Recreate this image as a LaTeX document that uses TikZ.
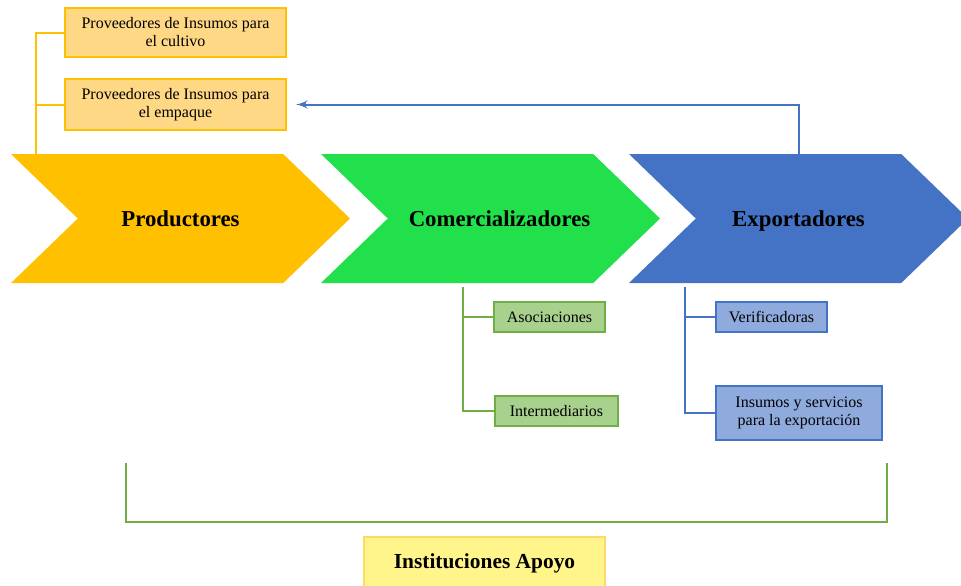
\documentclass[tikz,border=0pt]{standalone}
\usepackage{fontspec}
\setmainfont{Liberation Serif}
\usetikzlibrary{shapes,arrows,calc,positioning}

\definecolor{oro}{HTML}{FFC000}
\definecolor{oroclaro}{HTML}{FFD886}
\definecolor{verde}{HTML}{22E04B}
\definecolor{verdeosc}{HTML}{70AD47}
\definecolor{verdeclaro}{HTML}{A9D18E}
\definecolor{azul}{HTML}{4472C4}
\definecolor{azulclaro}{HTML}{8FAADC}
\definecolor{amarillo}{HTML}{FFF58A}
\definecolor{amarilloborde}{HTML}{FFD966}

\tikzstyle{chevron} = [signal, signal from=west, signal to=east, signal pointer angle=88, minimum height=64.5pt, minimum width=169.5pt, inner sep=0pt, outer sep=0pt, text height=8pt, text depth=0pt, font=\fontsize{11.4}{13}\selectfont\bfseries]
\tikzstyle{ybox} = [draw=oro, fill=oroclaro, line width=0.8pt, align=center, font=\fontsize{8}{9}\selectfont, minimum width=110.5pt, inner sep=0pt, outer sep=0pt]
\tikzstyle{gbox} = [draw=verdeosc, fill=verdeclaro, line width=0.8pt, align=center, font=\fontsize{8}{9}\selectfont, minimum height=15pt, inner sep=0pt, outer sep=0pt]
\tikzstyle{bbox} = [draw=azul, fill=azulclaro, line width=0.8pt, align=center, font=\fontsize{8}{9}\selectfont, minimum height=15pt, inner sep=0pt, outer sep=0pt]
\tikzstyle{yline} = [draw=oro, line width=1pt]
\tikzstyle{gline} = [draw=verdeosc, line width=1.1pt]
\tikzstyle{bline} = [draw=azul, line width=1pt]

\begin{document}
\begin{tikzpicture}[x=0.5pt, y=-0.5pt, >=latex']
\useasboundingbox (0,0) rectangle (961,585);

    % The three links of the chain
    \node [chevron, fill=oro] (prod) at (180.5,218.5) {Productores};
    \node [chevron, fill=verde, right of=prod, node distance=155pt] (com) {\hspace*{9pt}Comercializadores};
    \node [chevron, fill=azul, right of=com, node distance=154pt] (exp) {Exportadores};

    % Suppliers above the producers
    \node [ybox, minimum height=24.5pt] (cult) at (175.5,32.5) {Proveedores de Insumos para\\el cultivo};
    \node [ybox, minimum height=25.5pt, below of=cult, node distance=36pt] (emp) {Proveedores de Insumos para\\el empaque};

    % Branches below the traders and exporters
    \node [gbox, minimum width=55.5pt] (asoc) at (549.5,317) {Asociaciones};
    \node [gbox, minimum width=61.5pt] (inter) at (556.5,411) {Intermediarios};
    \node [bbox, minimum width=55.5pt] (verif) at (771.5,317) {Verificadoras};
    \node [bbox, minimum width=83pt, minimum height=27pt] (insum) at (799,413) {Insumos y servicios\\para la exportaci\'on};

    % Support institutions
    \node [draw=amarilloborde, fill=amarillo, line width=0.8pt, minimum width=120.5pt, minimum height=26pt, font=\fontsize{10.7}{12}\selectfont\bfseries] (inst) at (484.5,563) {Instituciones Apoyo};
    \coordinate (bl) at (126,463);
    \coordinate (br) at (887,463);

    \coordinate (prodtop) at ($(prod.north west)+(25,0)$);
    \coordinate (comdown) at ($(com.south west)+(142,4)$);
    \coordinate (expdown) at ($(exp.south west)+(56,4)$);

    \draw [yline] (cult.west) -| (prodtop);
    \draw [yline] (emp.west) -- (emp.west -| prodtop);
    \draw [bline,->,shorten >=5pt] (exp.north) |- (emp.east);

    \draw [gline] (comdown) |- (asoc.west);
    \draw [gline] (comdown) |- (inter.west);
    \draw [bline] (expdown) |- (verif.west);
    \draw [bline] (expdown) |- (insum.west);

    \draw [gline] (bl) -- ++(0,59) -| (br);

\end{tikzpicture}
\end{document}
